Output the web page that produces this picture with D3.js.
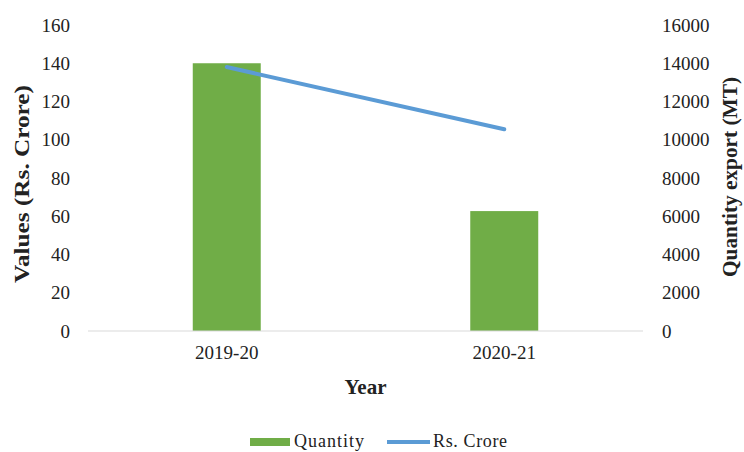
<!DOCTYPE html>
<html>
<head>
<meta charset="utf-8">
<script src="https://cdn.jsdelivr.net/npm/d3@7"></script>
<style>
  body { margin: 0; background: #fff; }
  text { font-family: "Liberation Serif", "Times New Roman", serif; fill: #222; }
</style>
</head>
<body>
<div id="chart"></div>
<script>
// data
const years = ["2019-20", "2020-21"];
const quantity = [14000, 6270];      // MT, right axis (bars)
const rsCrore = [138, 105.5];        // Rs. Crore, left axis (line)
const leftTicks = [0, 20, 40, 60, 80, 100, 120, 140, 160];
const rightTicks = [0, 2000, 4000, 6000, 8000, 10000, 12000, 14000, 16000];

const width = 744, height = 452,
      margin = {top: 25, right: 101, bottom: 121, left: 88};

const svg = d3.select("#chart")
    .append("svg")
    .attr("width", width)
    .attr("height", height);

const x = d3.scaleBand()
    .domain(years)
    .range([margin.left, width - margin.right])
    .paddingInner(0.755)
    .paddingOuter(0.3775);

const yLeft = d3.scaleLinear()
    .domain([0, 160])
    .range([height - margin.bottom, margin.top]);

const yRight = d3.scaleLinear()
    .domain([0, 16000])
    .range([height - margin.bottom, margin.top]);

// bars (quantity, right axis)
svg.append("g")
    .selectAll("rect")
    .data(years)
    .join("rect")
    .attr("x", d => x(d))
    .attr("width", x.bandwidth())
    .attr("y", (d, i) => yRight(quantity[i]))
    .attr("height", (d, i) => yRight(0) - yRight(quantity[i]))
    .attr("fill", "#70ad47");

// baseline
svg.append("line")
    .attr("x1", margin.left).attr("x2", width - margin.right)
    .attr("y1", yLeft(0)).attr("y2", yLeft(0))
    .attr("stroke", "#d9d9d9").attr("stroke-width", 1);

// line (Rs. Crore, left axis)
const line = d3.line()
    .x((d, i) => x(years[i]) + x.bandwidth() / 2)
    .y(d => yLeft(d));

svg.append("path")
    .datum(rsCrore)
    .attr("d", line)
    .attr("fill", "none")
    .attr("stroke", "#5b9bd5")
    .attr("stroke-width", 4)
    .attr("stroke-linecap", "round");

// left axis
const leftAxis = svg.append("g")
    .attr("transform", `translate(${margin.left}, 0)`)
    .call(d3.axisLeft(yLeft).tickValues(leftTicks).tickSize(0).tickPadding(18));
leftAxis.select(".domain").remove();
leftAxis.selectAll("text")
    .style("font-family", "Liberation Serif")
    .style("font-size", "19px")
    .attr("fill", "#222");

// right axis
const rightAxis = svg.append("g")
    .attr("transform", `translate(${width - margin.right}, 0)`)
    .call(d3.axisRight(yRight).tickValues(rightTicks).tickFormat(d3.format("d")).tickSize(0).tickPadding(19));
rightAxis.select(".domain").remove();
rightAxis.selectAll("text")
    .style("font-family", "Liberation Serif")
    .style("font-size", "19px")
    .attr("fill", "#222");

// x axis labels
const xAxis = svg.append("g")
    .attr("transform", `translate(0, ${yLeft(0)})`)
    .call(d3.axisBottom(x).tickSize(0).tickPadding(15));
xAxis.select(".domain").remove();
xAxis.selectAll("text")
    .style("font-family", "Liberation Serif")
    .style("font-size", "19px")
    .attr("fill", "#222");

// axis titles
svg.append("text")
    .attr("x", (margin.left + width - margin.right) / 2)
    .attr("y", 394)
    .attr("text-anchor", "middle")
    .style("font-size", "21px")
    .style("font-weight", "bold")
    .text("Year");

svg.append("text")
    .attr("transform", "translate(29, 184) rotate(-90)")
    .attr("text-anchor", "middle")
    .attr("textLength", 198)
    .attr("lengthAdjust", "spacingAndGlyphs")
    .style("font-size", "21px")
    .style("font-weight", "bold")
    .text("Values (Rs. Crore)");

svg.append("text")
    .attr("transform", "translate(737, 177) rotate(-90)")
    .attr("text-anchor", "middle")
    .attr("textLength", 200)
    .attr("lengthAdjust", "spacingAndGlyphs")
    .style("font-size", "21px")
    .style("font-weight", "bold")
    .text("Quantity export  (MT)");

// legend
const legend = svg.append("g");
legend.append("rect")
    .attr("x", 250).attr("y", 438)
    .attr("width", 40).attr("height", 8)
    .attr("fill", "#70ad47");
legend.append("text")
    .attr("x", 294).attr("y", 447)
    .attr("textLength", 70)
    .style("font-size", "18px")
    .text("Quantity");
legend.append("line")
    .attr("x1", 387).attr("x2", 430)
    .attr("y1", 442).attr("y2", 442)
    .attr("stroke", "#5b9bd5").attr("stroke-width", 4);
legend.append("text")
    .attr("x", 433).attr("y", 447)
    .attr("textLength", 74)
    .style("font-size", "18px")
    .text("Rs. Crore");
</script>
</body>
</html>
